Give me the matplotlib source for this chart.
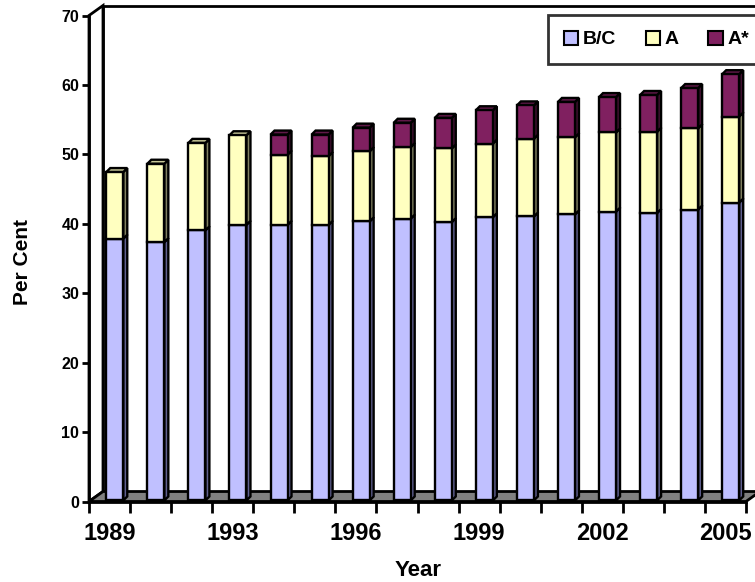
import matplotlib
matplotlib.use("Agg")
import matplotlib.pyplot as plt
from matplotlib.patches import Polygon, Patch

plt.rcParams['font.family'] = ['Liberation Sans', 'DejaVu Sans']
plt.rcParams['font.weight'] = 'bold'

# données (pourcentages)
years = [1989, 1991, 1992, 1993, 1994, 1995, 1996, 1997,
         1998, 1999, 2000, 2001, 2002, 2003, 2004, 2005]
bc = [37.7, 37.2, 38.9, 39.7, 39.7, 39.7, 40.2, 40.6,
      40.1, 40.8, 40.9, 41.2, 41.6, 41.4, 41.9, 42.9]
a = [9.6, 11.3, 12.6, 12.9, 10.1, 9.9, 10.1, 10.3,
     10.6, 10.6, 11.2, 11.1, 11.4, 11.7, 11.7, 12.4]
a_star = [0, 0, 0, 0, 2.9, 3.1, 3.4, 3.5,
          4.4, 4.8, 4.8, 5.1, 5.1, 5.3, 5.8, 6.1]
series_names = ['B/C', 'A', 'A*']
front_colors = ['#C0C0FF', '#FFFFC0', '#802060']
side_colors = ['#606090', '#808060', '#401030']
top_colors = ['#9090C8', '#C8C898', '#601848']

W, H = 755, 582
fig = plt.figure(figsize=(W / 100, H / 100), dpi=100)
ax = fig.add_axes([89 / W, (H - 501.5) / H, 657 / W, 486 / H])
n = len(years)
ax.set_xlim(-0.5, n - 0.5)
ax.set_ylim(0, 70)

# profondeur du "3D" (murs et barres), en unités de données
DX, DY = 0.341, 1.44
BDX, BDY = 0.097, 0.576
bar_w, bar_shift, bar_lift = 0.414, 0.128, 0.15

# murs et sol
x0, x1 = -0.5, n - 0.5
ax.add_patch(Polygon([(x0 + DX, DY), (x1 + DX, DY), (x1 + DX, 70 + DY), (x0 + DX, 70 + DY)],
                     closed=True, facecolor='white', edgecolor='black', lw=2, clip_on=False, zorder=0))
ax.add_patch(Polygon([(x0, 0), (x0, 70), (x0 + DX, 70 + DY), (x0 + DX, DY)],
                     closed=True, facecolor='white', edgecolor='black', lw=2, clip_on=False, zorder=1))
ax.add_patch(Polygon([(x0, 0), (x1, 0), (x1 + DX, DY), (x0 + DX, DY)],
                     closed=True, facecolor='#808080', edgecolor='black', lw=2, clip_on=False, zorder=1))

# barres empilées : face avant + côté + dessus
stacks = [bc, a, a_star]
for i in range(n):
    xc = i + bar_shift
    xl, xr = xc - bar_w / 2, xc + bar_w / 2
    bottom = bar_lift
    top_k = max(k for k in range(3) if stacks[k][i] > 0)
    for k in range(3):
        v = stacks[k][i]
        if v <= 0:
            continue
        t = bottom + v
        ax.bar(xc, v, bar_w, bottom=bottom, color=front_colors[k], edgecolor='black',
               linewidth=1.7, zorder=4, clip_on=False)
        ax.add_patch(Polygon([(xr, bottom), (xr + BDX, bottom + BDY), (xr + BDX, t + BDY), (xr, t)],
                             closed=True, facecolor=side_colors[k], edgecolor='black', lw=1.7,
                             zorder=3, clip_on=False))
        if k == top_k:
            ax.add_patch(Polygon([(xl, t), (xr, t), (xr + BDX, t + BDY), (xl + BDX, t + BDY)],
                                 closed=True, facecolor=top_colors[k], edgecolor='black', lw=1.7,
                                 zorder=3, clip_on=False))
        bottom = t

# axes
for s in ['top', 'right']:
    ax.spines[s].set_visible(False)
for s in ['left', 'bottom']:
    ax.spines[s].set_linewidth(2)
    ax.spines[s].set_zorder(2)
ax.patch.set_visible(False)

ax.set_yticks(range(0, 71, 10))
ax.tick_params(axis='y', length=5, width=2, pad=2, labelsize=11.5)
ax.set_xticks([i - 0.5 for i in range(n + 1)])
ax.set_xticklabels([])
ax.tick_params(axis='x', which='major', length=8, width=2)
label_idx = list(range(0, n, 3))
ax.set_xticks(label_idx, [str(years[i]) for i in label_idx], minor=True)
ax.tick_params(axis='x', which='minor', length=0, pad=15, labelsize=17)

fig.text(418 / W, 1 - 571 / H, 'Year', ha='center', va='center', fontsize=16, fontweight='bold')
fig.text(22 / W, 1 - 262 / H, 'Per Cent', ha='center', va='center', rotation=90,
         fontsize=15, fontweight='bold')

handles = [Patch(facecolor=c, edgecolor='black', lw=1.5) for c in front_colors]
leg = fig.legend(handles, series_names, loc='upper left', bbox_to_anchor=(548 / W, 1 - 15 / H),
                 ncol=3, fontsize=14, frameon=True, fancybox=False, handlelength=0.75,
                 handleheight=0.75, handletextpad=0.25, columnspacing=1.5, borderpad=0.8,
                 borderaxespad=0)
leg.get_frame().set_edgecolor('black')
leg.get_frame().set_linewidth(2)
for t in leg.get_texts():
    t.set_fontweight('bold')

fig.savefig('out.png', dpi=100)
